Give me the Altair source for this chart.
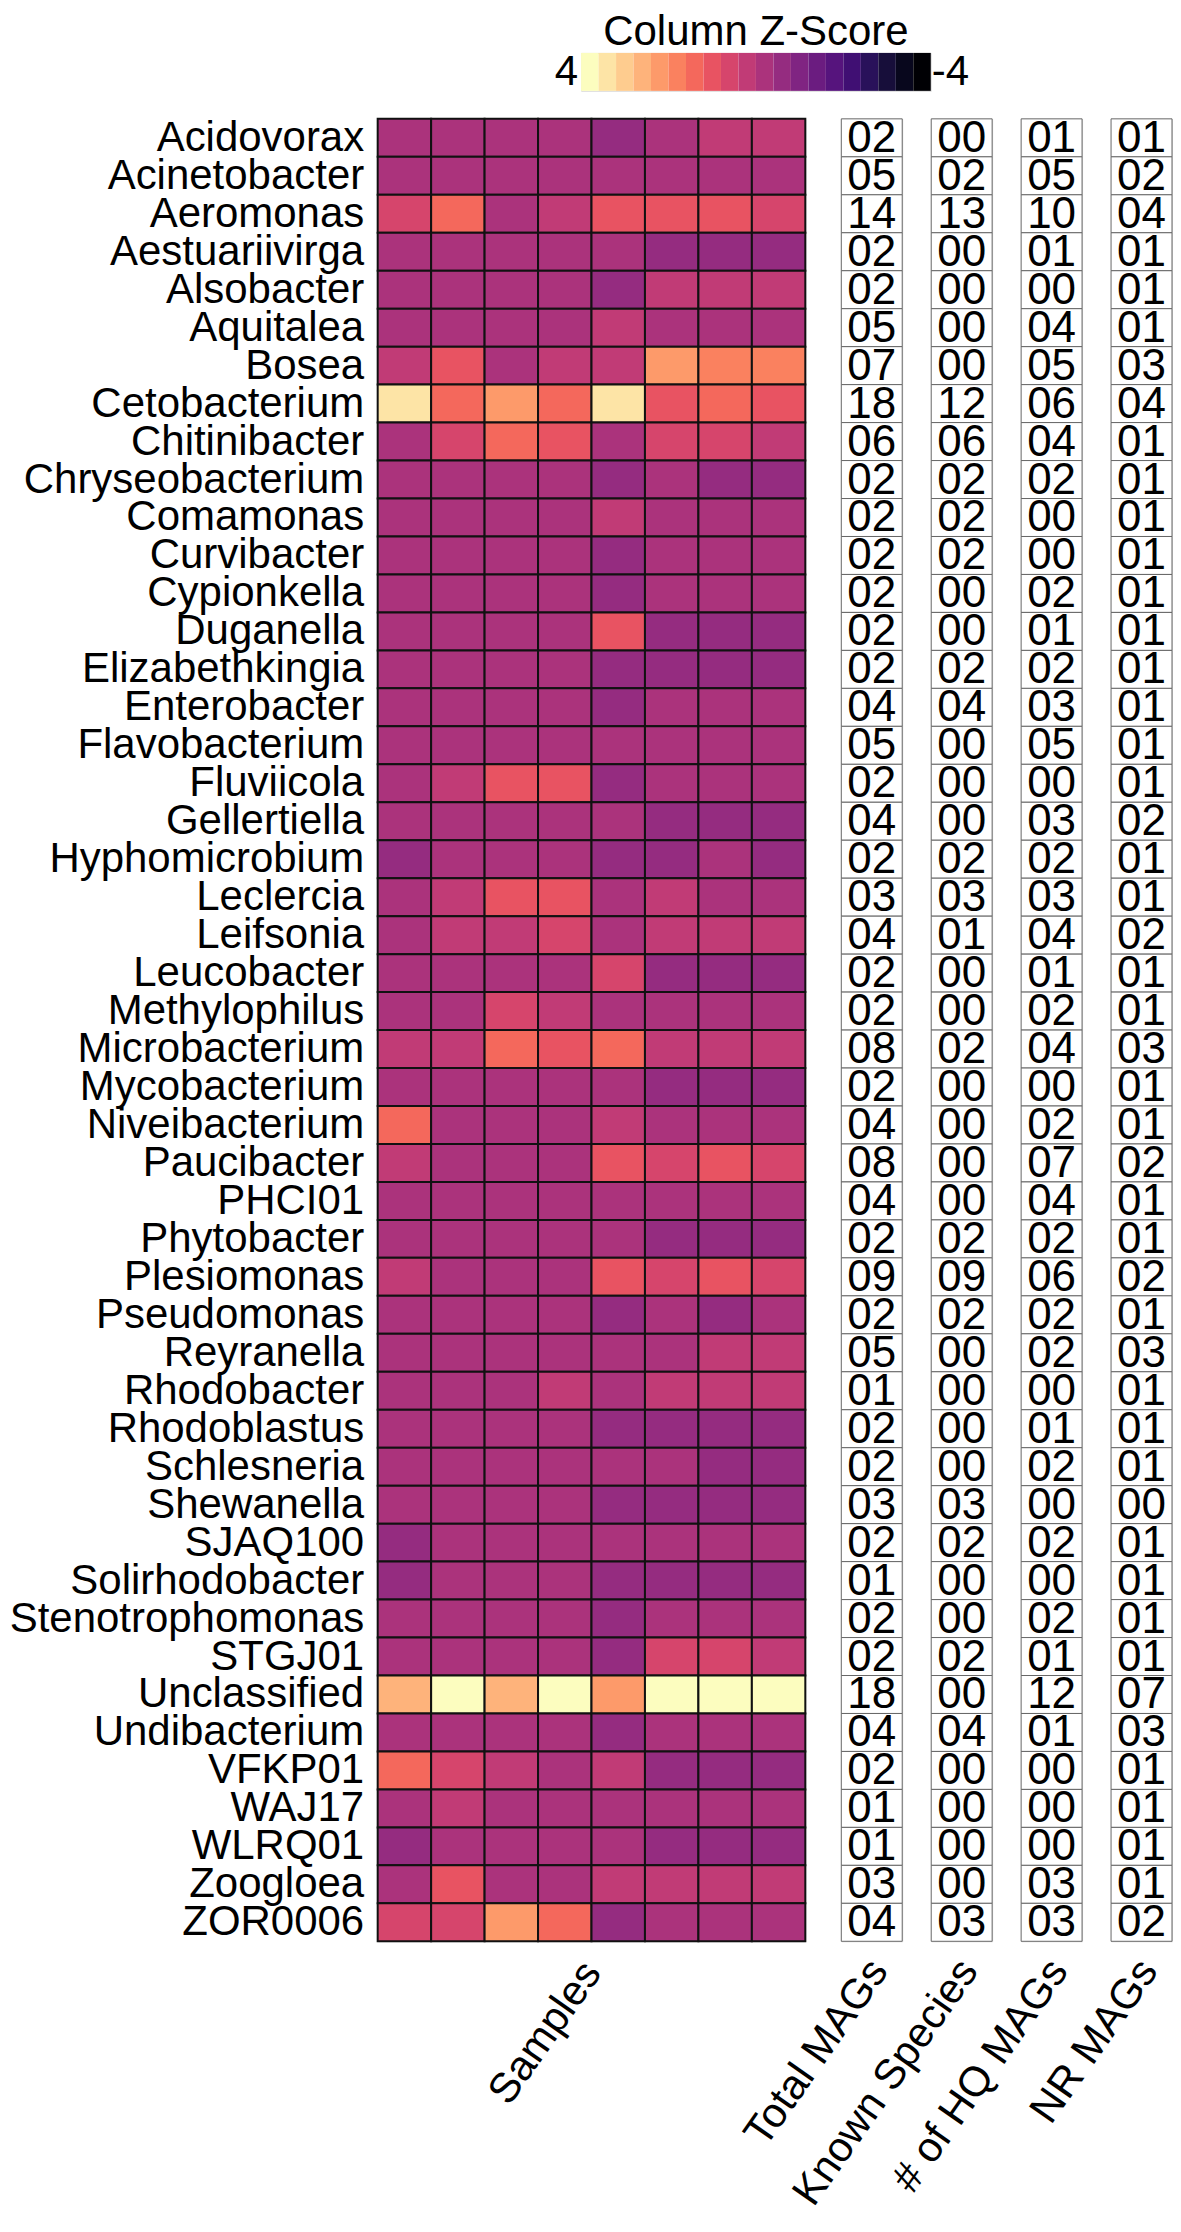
import altair as alt
import pandas as pd

FONT = "Liberation Sans"

genera = [
    "Acidovorax", "Acinetobacter", "Aeromonas", "Aestuariivirga", "Alsobacter",
    "Aquitalea", "Bosea", "Cetobacterium", "Chitinibacter", "Chryseobacterium",
    "Comamonas", "Curvibacter", "Cypionkella", "Duganella", "Elizabethkingia",
    "Enterobacter", "Flavobacterium", "Fluviicola", "Gellertiella", "Hyphomicrobium",
    "Leclercia", "Leifsonia", "Leucobacter", "Methylophilus", "Microbacterium",
    "Mycobacterium", "Niveibacterium", "Paucibacter", "PHCI01", "Phytobacter",
    "Plesiomonas", "Pseudomonas", "Reyranella", "Rhodobacter", "Rhodoblastus",
    "Schlesneria", "Shewanella", "SJAQ100", "Solirhodobacter", "Stenotrophomonas",
    "STGJ01", "Unclassified", "Undibacterium", "VFKP01", "WAJ17",
    "WLRQ01", "Zoogloea", "ZOR0006",
]

samples = ["S1", "S2", "S3", "S4", "S5", "S6", "S7", "S8"]

# column z-scores, one list per sample (rows follow `genera`)
s1 = [-0.2, -0.2, 0.6, -0.2, -0.2, -0.2, 0.2, 3.4, -0.2, -0.2,
      -0.2, -0.2, -0.2, -0.2, -0.2, -0.2, -0.2, -0.2, -0.2, -0.6,
      -0.2, -0.2, -0.2, -0.2, 0.2, -0.2, 1.4, 0.2, -0.2, -0.2,
      0.2, -0.2, -0.2, -0.2, -0.2, -0.2, -0.2, -0.6, -0.6, -0.2,
      -0.2, 2.6, -0.2, 1.4, -0.2, -0.6, -0.2, 0.6]
s2 = [-0.2, -0.2, 1.4, -0.2, -0.2, -0.2, 1.0, 1.4, 0.6, -0.2,
      -0.2, -0.2, -0.2, -0.2, -0.2, -0.2, -0.2, 0.2, -0.2, -0.2,
      0.2, 0.2, -0.2, -0.2, 0.2, -0.2, -0.2, -0.2, -0.2, -0.2,
      -0.2, -0.2, -0.2, -0.2, -0.2, -0.2, -0.2, -0.2, -0.2, -0.2,
      -0.2, 3.8, -0.2, 0.6, 0.2, -0.2, 1.0, 0.6]
s3 = [-0.2, -0.2, -0.2, -0.2, -0.2, -0.2, -0.2, 2.2, 1.4, -0.2,
      -0.2, -0.2, -0.2, -0.2, -0.2, -0.2, -0.2, 1.0, -0.2, -0.2,
      1.0, 0.2, -0.2, 0.6, 1.4, -0.2, -0.2, -0.2, -0.2, -0.2,
      -0.2, -0.2, -0.2, -0.2, -0.2, -0.2, -0.2, -0.2, -0.2, -0.2,
      -0.2, 2.6, -0.2, 0.2, -0.2, -0.2, -0.2, 2.2]
s4 = [-0.2, -0.2, 0.2, -0.2, -0.2, -0.2, 0.2, 1.4, 1.0, -0.2,
      -0.2, -0.2, -0.2, -0.2, -0.2, -0.2, -0.2, 1.0, -0.2, -0.2,
      1.0, 0.6, -0.2, 0.2, 1.0, -0.2, -0.2, -0.2, -0.2, -0.2,
      -0.2, -0.2, -0.2, 0.2, -0.2, -0.2, -0.2, -0.2, -0.2, -0.2,
      -0.2, 3.8, -0.2, -0.2, -0.2, -0.2, -0.2, 1.4]
s5 = [-0.6, -0.2, 1.0, -0.2, -0.6, 0.2, 0.2, 3.4, -0.2, -0.6,
      0.2, -0.6, -0.6, 1.0, -0.6, -0.6, -0.2, -0.6, -0.2, -0.6,
      -0.2, -0.2, 0.6, -0.2, 1.4, -0.2, 0.2, 1.0, -0.2, -0.2,
      1.0, -0.6, -0.2, -0.2, -0.6, -0.2, -0.6, -0.2, -0.6, -0.6,
      -0.6, 2.2, -0.6, 0.2, -0.2, -0.2, 0.2, -0.6]
s6 = [-0.2, -0.2, 1.0, -0.6, 0.2, -0.2, 2.2, 1.0, 0.6, -0.2,
      -0.2, -0.2, -0.2, -0.6, -0.6, -0.2, -0.2, -0.2, -0.6, -0.6,
      0.2, 0.2, -0.6, -0.2, 0.2, -0.6, -0.2, 0.6, -0.2, -0.6,
      0.6, -0.2, -0.2, 0.2, -0.6, -0.2, -0.6, -0.2, -0.6, -0.2,
      0.6, 3.8, -0.2, -0.6, -0.2, -0.6, 0.2, -0.2]
s7 = [0.2, -0.2, 1.0, -0.6, 0.2, -0.2, 1.8, 1.4, 0.6, -0.6,
      -0.2, -0.2, -0.2, -0.6, -0.6, -0.2, -0.2, -0.2, -0.6, -0.2,
      -0.2, 0.2, -0.6, -0.2, 0.2, -0.6, -0.2, 1.0, -0.2, -0.6,
      1.0, -0.6, 0.2, 0.2, -0.6, -0.6, -0.6, -0.2, -0.6, -0.2,
      0.6, 3.8, -0.2, -0.6, -0.2, -0.6, 0.2, -0.2]
s8 = [0.2, -0.2, 0.6, -0.6, 0.2, -0.2, 1.8, 1.0, 0.2, -0.6,
      -0.2, -0.2, -0.2, -0.6, -0.6, -0.2, -0.2, -0.2, -0.6, -0.6,
      -0.2, 0.2, -0.6, -0.2, 0.2, -0.6, -0.2, 0.6, -0.2, -0.6,
      0.6, -0.2, 0.2, 0.2, -0.6, -0.6, -0.6, -0.2, -0.6, -0.2,
      0.2, 3.8, -0.2, -0.6, -0.2, -0.6, 0.2, -0.2]

total_mags = [2, 5, 14, 2, 2, 5, 7, 18, 6, 2, 2, 2, 2, 2, 2, 4, 5, 2, 4, 2,
              3, 4, 2, 2, 8, 2, 4, 8, 4, 2, 9, 2, 5, 1, 2, 2, 3, 2, 1, 2,
              2, 18, 4, 2, 1, 1, 3, 4]
known_species = [0, 2, 13, 0, 0, 0, 0, 12, 6, 2, 2, 2, 0, 0, 2, 4, 0, 0, 0, 2,
                 3, 1, 0, 0, 2, 0, 0, 0, 0, 2, 9, 2, 0, 0, 0, 0, 3, 2, 0, 0,
                 2, 0, 4, 0, 0, 0, 0, 3]
hq_mags = [1, 5, 10, 1, 0, 4, 5, 6, 4, 2, 0, 0, 2, 1, 2, 3, 5, 0, 3, 2,
           3, 4, 1, 2, 4, 0, 2, 7, 4, 2, 6, 2, 2, 0, 1, 2, 0, 2, 0, 2,
           1, 12, 1, 0, 0, 0, 3, 3]
nr_mags = [1, 2, 4, 1, 1, 1, 3, 4, 1, 1, 1, 1, 1, 1, 1, 1, 1, 1, 2, 1,
           1, 2, 1, 1, 3, 1, 1, 2, 1, 1, 2, 1, 3, 1, 1, 1, 0, 1, 1, 1,
           1, 7, 3, 1, 1, 1, 1, 2]

metric_names = ["Total MAGs", "Known Species", "# of HQ MAGs", "NR MAGs"]

legend_breaks = [4.0, 3.6, 3.2, 2.8, 2.4, 2.0, 1.6, 1.2, 0.8, 0.4, 0.0,
                 -0.4, -0.8, -1.2, -1.6, -2.0, -2.4, -2.8, -3.2, -3.6, -4.0]

# ---------- tables ----------
sample_cols = [s1, s2, s3, s4, s5, s6, s7, s8]
heat_rows = []
for s, col in zip(samples, sample_cols):
    for g, v in zip(genera, col):
        heat_rows.append({"genus": g, "sample": s, "z": v})
df_heat = pd.DataFrame(heat_rows)

box_rows = []
for m, col in zip(metric_names, [total_mags, known_species, hq_mags, nr_mags]):
    for g, v in zip(genera, col):
        box_rows.append({"genus": g, "metric": m, "count": v})
df_box = pd.DataFrame(box_rows)

df_leg = pd.DataFrame({
    "hi": legend_breaks[:-1],
    "lo": legend_breaks[1:],
})
df_leg["mid"] = (df_leg["hi"] + df_leg["lo"]) / 2
df_leg["bar"] = "z"
df_leg_lab = pd.DataFrame({"v": [legend_breaks[0], legend_breaks[-1]],
                           "t": ["4", "-4"], "side": ["L", "R"], "bar": ["z", "z"]})

# 20 magma colours including both ends (black ... pale yellow)
zscale = alt.Scale(type="quantize", domain=[-4, 4], nice=False, zero=False,
                   scheme=alt.SchemeParams(name="magma", count=20,
                                           extent=[-1 / 19, 20 / 19]))

ROW_H = 38
N = len(genera)
HEAT_W = 428
BOX_W = 61
FS = 42

# ---------- legend ----------
def leg_xscale():
    return alt.Scale(domain=[-4, 4], reverse=True, nice=False, zero=False)

leg_y = alt.Y("bar:N", axis=None)
leg_rect = alt.Chart(df_leg).mark_rect().encode(
    x=alt.X("hi:Q", scale=leg_xscale(), axis=None), x2="lo:Q", y=leg_y,
    color=alt.Color("mid:Q", scale=zscale, legend=None),
)
leg_lab_l = alt.Chart(df_leg_lab).transform_filter("datum.side == 'L'").mark_text(
    align="right", baseline="middle", dx=-3, fontSize=FS, font=FONT, color="black"
).encode(x=alt.X("v:Q", scale=leg_xscale(), axis=None), y=leg_y, text="t:N")
leg_lab_r = alt.Chart(df_leg_lab).transform_filter("datum.side == 'R'").mark_text(
    align="left", baseline="middle", dx=1, fontSize=FS, font=FONT, color="black"
).encode(x=alt.X("v:Q", scale=leg_xscale(), axis=None), y=leg_y, text="t:N")
legend_chart = alt.layer(leg_rect, leg_lab_l, leg_lab_r).properties(
    width=350, height=38,
    title=alt.TitleParams("Column Z-Score", fontSize=FS, font=FONT, fontWeight="normal",
                          color="black", offset=-3, anchor="middle", frame="group"),
)

# ---------- heatmap ----------
heat = alt.Chart(df_heat).mark_rect(stroke="#111111", strokeWidth=2).encode(
    x=alt.X("sample:N", sort=samples,
            axis=alt.Axis(labels=False, ticks=False, domain=False, title="Samples",
                          titleAngle=305, titleAlign="right", titleBaseline="middle",
                          titleFontSize=FS, titleFont=FONT, titleFontWeight="normal",
                          titleColor="black", titleX=HEAT_W / 2, titleY=24)),
    y=alt.Y("genus:N", sort=genera,
            axis=alt.Axis(title=None, ticks=False, domain=False, labelFontSize=FS,
                          labelFont=FONT, labelColor="black", labelPadding=14, labelLimit=0)),
    color=alt.Color("z:Q", scale=zscale, legend=None),
).properties(width=HEAT_W, height=ROW_H * N)


def box_chart(metric):
    base = alt.Chart(df_box).transform_filter(alt.datum.metric == metric).encode(
        x=alt.X("metric:N", scale=alt.Scale(paddingInner=0, paddingOuter=0),
                axis=alt.Axis(title=None, ticks=False, domain=False, labelAngle=305,
                              labelAlign="right", labelBaseline="middle", labelFontSize=FS,
                              labelFont=FONT, labelColor="black", labelPadding=22,
                              labelOffset=7, labelLimit=0)),
        y=alt.Y("genus:N", sort=genera, axis=None),
    )
    rect = base.mark_rect(fill="white", stroke="#666666", strokeWidth=1)
    txt = base.mark_text(fontSize=44, font=FONT, color="black", baseline="middle", dy=1).encode(
        text=alt.Text("count:Q", format="02d"))
    return alt.layer(rect, txt).properties(width=BOX_W, height=ROW_H * N)


boxes = alt.hconcat(*[box_chart(m) for m in metric_names], spacing=29, bounds="flush")
main = alt.hconcat(heat, boxes, spacing=36, bounds="flush")

chart = alt.vconcat(legend_chart, main, spacing=22, center=True).properties(
    padding={"left": 0, "top": 1, "right": 0, "bottom": 0}
).configure_view(stroke=None).configure(font=FONT)

chart.save("out.html", embed_options={"renderer": "svg", "actions": False})
